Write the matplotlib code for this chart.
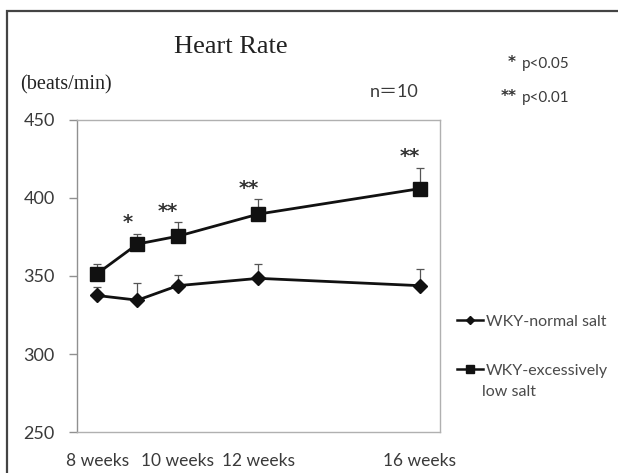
import matplotlib
matplotlib.use("Agg")
import matplotlib.pyplot as plt
from matplotlib.patches import Rectangle
import numpy as np

# ---- data ----
weeks = [8, 9, 10, 12, 16]
tick_weeks = [8, 10, 12, 16]
tick_labels = ["8 weeks", "10 weeks", "12 weeks", "16 weeks"]
normal_mean = [337.5, 334.5, 343.8, 348.5, 343.8]
normal_err = [5.5, 11.0, 7.0, 9.5, 11.0]
low_mean = [351.5, 370.5, 375.5, 389.7, 406.0]
low_err = [6.5, 6.5, 9.0, 9.5, 13.5]
sig_labels = ["", "*", "**", "**", "**"]
yticks = [250, 300, 350, 400, 450]

W, H = 618, 473
fig = plt.figure(figsize=(W / 100, H / 100), dpi=100)
fig.patch.set_facecolor("white")

# outer frame (top and left edges visible)
fig.add_artist(Rectangle((7 / W, -0.2), 1.5, 1 - 11 / H + 0.2, transform=fig.transFigure,
                         fill=False, edgecolor="#444444", linewidth=1.6))

ax = fig.add_axes([77 / W, 1 - 432 / H, (440 - 77) / W, (432 - 120) / H])
ax.set_xlim(7.5, 16.5)
ax.set_ylim(250, 450)

for s in ax.spines.values():
    s.set_color("#b0b0b0")
    s.set_linewidth(1.0)
ax.spines["left"].set_color("#909090")

sans = "Lato"
txtc = "#3a3a3a"

ax.set_yticks(yticks)
ax.set_yticklabels([str(v) for v in yticks], fontsize=13, color=txtc, family=sans)
ax.tick_params(axis="y", length=6, width=1, color="#909090", pad=10)
ax.set_xticks(tick_weeks)
ax.set_xticklabels(tick_labels, fontsize=12.5, color=txtc, family=sans)
ax.tick_params(axis="x", length=0, pad=15)

lc = "#111111"
ax.errorbar(weeks, normal_mean, yerr=[np.zeros(len(normal_err)), normal_err],
            fmt="none", ecolor="#555555", elinewidth=0.9, capsize=3, capthick=0.9, zorder=2)
ax.errorbar(weeks, low_mean, yerr=[np.zeros(len(low_err)), low_err],
            fmt="none", ecolor="#555555", elinewidth=0.9, capsize=3, capthick=0.9, zorder=2)
l1, = ax.plot(weeks, normal_mean, color=lc, lw=2.0, marker="D", markersize=7.5,
              markerfacecolor=lc, markeredgecolor=lc, zorder=3)
l2, = ax.plot(weeks, low_mean, color=lc, lw=2.0, marker="s", markersize=9.5,
              markerfacecolor=lc, markeredgecolor=lc, zorder=3)

for x, m, e, lab in zip(weeks, low_mean, low_err, sig_labels):
    if lab:
        ax.annotate(lab, xy=(x, m + e), xytext=(-7, 1), textcoords="offset points",
                    ha="center", va="bottom", fontsize=14, fontweight="bold",
                    color="#333333", family="DejaVu Sans")

# legend
h1, = ax.plot([], [], color=lc, lw=1.8, marker="D", markersize=4.5)
h2, = ax.plot([], [], color=lc, lw=1.8, marker="s", markersize=5.5)
leg = fig.legend([h1, h2], ["WKY-normal salt", "WKY-excessively"],
                 loc="upper left", bbox_to_anchor=(443 / W, 1 - 300 / H),
                 frameon=False, handlelength=1.6, handletextpad=0.2,
                 labelspacing=2.2, prop={"family": sans, "size": 11.5})
for t in leg.get_texts():
    t.set_color("#4a4a4a")
fig.text(482 / W, 1 - 392 / H, "low salt", ha="left", va="center",
         family=sans, fontsize=11.5, color="#4a4a4a")

# texts
fig.text(231 / W, 1 - 47 / H, "Heart Rate", ha="center", va="center",
         family="Liberation Serif", fontsize=19, color="#222222")
fig.text(20 / W, 1 - 85 / H, "(beats/min)", ha="left", va="center",
         family="Liberation Serif", fontsize=14.5, color="#222222")
fig.text(394 / W, 1 - 92 / H, "n＝10", ha="center", va="center",
         family=[sans, "Noto Sans CJK JP"], fontsize=13, color=txtc)
fig.text(516 / W, 1 - 62 / H, "*", ha="right", va="center", fontweight="bold",
         family="DejaVu Sans", fontsize=11, color="#333333")
fig.text(522 / W, 1 - 64 / H, "p<0.05", ha="left", va="center",
         family=sans, fontsize=11, color=txtc)
fig.text(517 / W, 1 - 96 / H, "**", ha="right", va="center", fontweight="bold",
         family="DejaVu Sans", fontsize=11, color="#333333")
fig.text(522 / W, 1 - 98 / H, "p<0.01", ha="left", va="center",
         family=sans, fontsize=11, color=txtc)

fig.savefig("out.png", dpi=100)
